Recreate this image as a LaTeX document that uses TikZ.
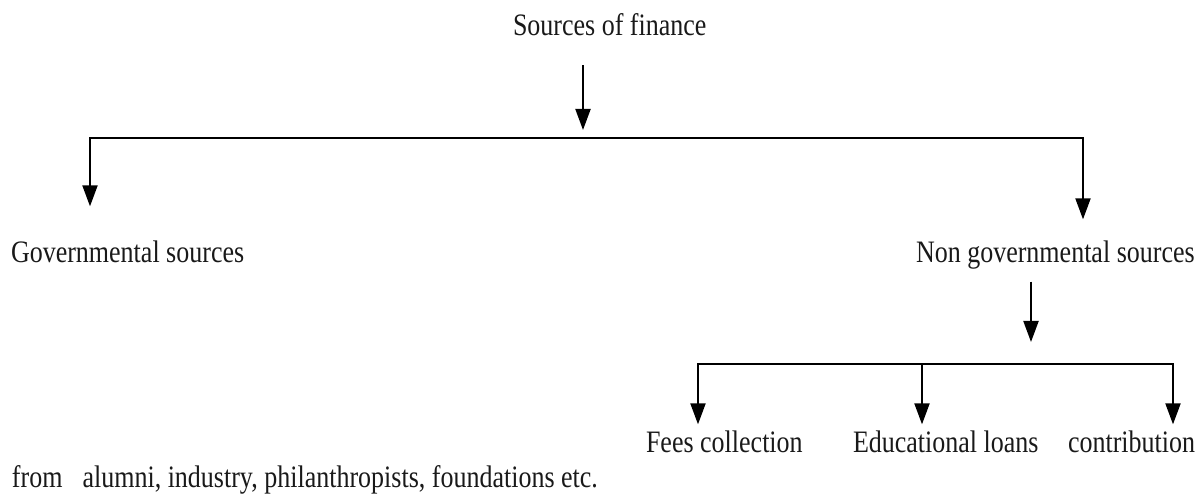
\documentclass[tikz,border=0pt]{standalone}
\usepackage{fontspec}
\setmainfont{Liberation Serif}
\usepackage{graphicx}
\usetikzlibrary{arrows.meta}
\newcommand{\vstretch}[1]{\scalebox{1}[1.2]{#1}}
\begin{document}
\begin{tikzpicture}[x=1pt,y=-1pt,
  txt/.style={inner sep=0pt, outer sep=0pt, anchor=base west, font=\fontsize{26}{30}\selectfont, text=black!90},
  conn/.style={line width=2pt, draw=black},
  arr/.style={conn, -{Triangle[length=21pt,width=15pt]}},
  arrtwo/.style={conn, {Triangle[length=21pt,width=15pt]}-{Triangle[length=21pt,width=15pt]}, line join=miter}
]
\useasboundingbox (0,0) rectangle (1203,494);

% text nodes
\node[txt] (src)   at (513,36)  {\vstretch{Sources of finance}};
\node[txt] (gov)   at (11,263)  {\vstretch{Governmental sources}};
\node[txt] (ngov)  at (916,263) {\vstretch{Non governmental sources}};
\node[txt] (fees)  at (646,452) {\vstretch{Fees collection}};
\node[txt] (edu)   at (853,452) {\vstretch{Educational loans}};
\node[txt] (contr) at (1068,452){\vstretch{contribution}};
\node[txt] (note)  at (12,487)  {\vstretch{from\hspace{20pt}alumni, industry, philanthropists, foundations etc.}};

% junction coordinates
\coordinate (j1) at (583,138);
\coordinate (hl) at (90,138);
\coordinate (hr) at (1083,138);
\coordinate (j2) at (1031,364);
\coordinate (k1) at (698,364);
\coordinate (k2) at (922,364);
\coordinate (k3) at (1173,364);

% top level
\draw[arr, shorten <=29pt, shorten >=8pt] (src.south -| j1) -- (j1);
\draw[arrtwo, shorten <=35pt, shorten >=22pt] (gov.north -| hl) |- (hr) -- (ngov.north -| hr);

% second level
\draw[arr, shorten <=12pt, shorten >=22pt] (ngov.south -| j2) -- (j2);
\draw[arrtwo, shorten <=6pt, shorten >=6pt] (fees.north -| k1) |- (k3) -- (contr.north -| k3);
\draw[arr, shorten >=6pt] (k2) -- (edu.north -| k2);
\end{tikzpicture}
\end{document}
